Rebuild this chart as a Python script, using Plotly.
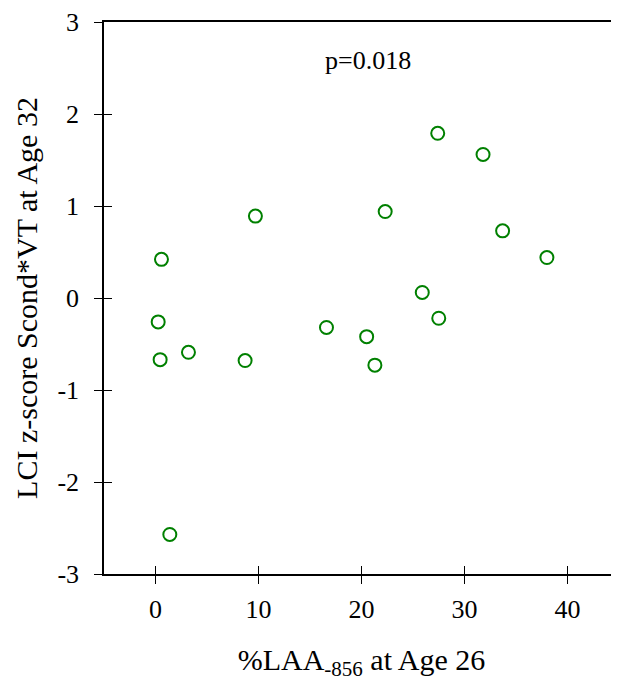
import plotly.graph_objects as go

laa_856_age26 = [9.7, 22.3, 0.58, 0.26, 16.6, 20.5, 0.45, 3.2, 8.7, 21.3,
                 27.4, 31.8, 33.7, 38.0, 25.9, 27.5, 1.39]
lci_z_age32 = [0.89, 0.94, 0.42, -0.26, -0.32, -0.42, -0.67, -0.59, -0.68, -0.73,
               1.79, 1.56, 0.73, 0.44, 0.06, -0.22, -2.57]

x_ticks = [0, 10, 20, 30, 40]
x_ticktext = ["0", "10", "20", "30", "40"]
y_ticks = [-3, -2, -1, 0, 1, 2, 3]
y_ticktext = ["-3", "-2", "-1", "0", "1", "2", "3"]
x_range = [-5, 45]
y_range = [-3, 3]
p_text = "p=0.018"

FONT = "Liberation Serif"
fig = go.Figure()
fig.add_trace(go.Scatter(
    x=laa_856_age26, y=lci_z_age32, mode="markers",
    marker=dict(symbol="circle-open", size=13, color="#008000",
                line=dict(width=2, color="#008000")),
    showlegend=False, cliponaxis=False,
))

common = dict(showgrid=False, zeroline=False, automargin=False)
tickfont = dict(family=FONT, size=26, color="black")
fig.update_layout(
    # page body has an 8px margin, so the figure is offset accordingly
    width=611, height=673,
    margin=dict(l=96, r=0, t=14, b=107),
    paper_bgcolor="white", plot_bgcolor="white",
    font=dict(family=FONT, size=26, color="black"),
    xaxis=dict(range=x_range, tickmode="array", tickvals=x_ticks, ticktext=x_ticktext,
               ticks="outside", ticklen=8, ticklabelstandoff=3, ticklabeloverflow="allow",
               tickwidth=1.3, tickcolor="black", showline=True, linecolor="black",
               linewidth=1.5, tickfont=tickfont,
               title=dict(text="%LAA<sub>-856</sub> at Age 26", font=dict(size=30), standoff=27),
               **common),
    yaxis=dict(range=y_range, tickmode="array", tickvals=y_ticks, ticktext=y_ticktext,
               ticks="outside", ticklen=8, ticklabelstandoff=10, ticklabeloverflow="allow",
               tickwidth=1.3, tickcolor="black", showline=True, linecolor="black",
               linewidth=1.5, tickfont=tickfont,
               title=dict(text="LCI z-score Scond*VT at Age 32", font=dict(size=30), standoff=11),
               **common),
    xaxis2=dict(range=x_range, tickvals=x_ticks, ticks="inside", ticklen=8,
                tickwidth=1.3, tickcolor="black", showticklabels=False,
                overlaying="x", side="bottom", showline=False, **common),
    yaxis2=dict(range=y_range, tickvals=y_ticks, ticks="inside", ticklen=8,
                tickwidth=1.3, tickcolor="black", showticklabels=False,
                overlaying="y", side="left", showline=False, **common),
    xaxis3=dict(range=x_range, overlaying="x", side="top", showline=True,
                linecolor="black", linewidth=1.5, ticks="", showticklabels=False,
                **common),
)
# invisible traces to activate the overlay axes
fig.add_trace(go.Scatter(x=[None], y=[None], xaxis="x2", yaxis="y2", showlegend=False, hoverinfo="skip"))
fig.add_trace(go.Scatter(x=[None], y=[None], xaxis="x3", yaxis="y", showlegend=False, hoverinfo="skip"))

fig.add_annotation(x=20.6, y=2.58, xref="x", yref="y", text=p_text,
                   showarrow=False, font=dict(family=FONT, size=26, color="black"))

fig.write_html("out.html")
